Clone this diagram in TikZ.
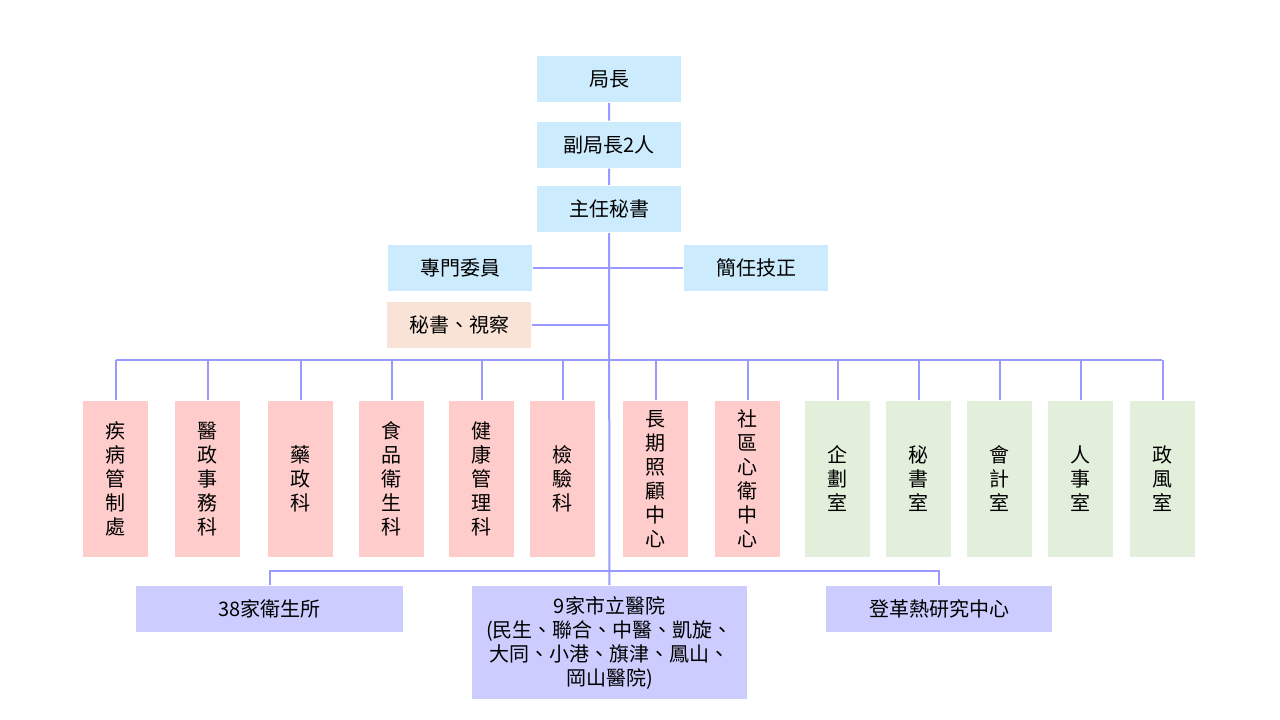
\documentclass[tikz,border=0pt]{standalone}
\usepackage{fontspec}
\setmainfont{Noto Sans CJK TC}
\usetikzlibrary{positioning}
\definecolor{topblue}{HTML}{CCEBFD}
\definecolor{peach}{HTML}{F9E3D6}
\definecolor{pinkbox}{HTML}{FFCCCC}
\definecolor{greenbox}{HTML}{E2EFDA}
\definecolor{violet}{HTML}{CCCCFF}
\definecolor{wire}{HTML}{9999FF}
\begin{document}
\begin{tikzpicture}[x=1pt, y=-1pt, line width=2pt,
	box/.style={inner sep=0pt, minimum width=144pt, minimum height=46pt, font=\fontsize{20}{24}\selectfont},
	unit/.style={inner sep=0pt, minimum width=65pt, minimum height=156pt, align=center, font=\fontsize{20}{24}\selectfont},
	link/.style={draw=wire}]
	\useasboundingbox (0,0) rectangle (1280,720);
	\node[box, fill=topblue] (chief) at (609,79) {局長};
	\node[box, fill=topblue] (deputy) at (609,144.5) {副局長2人};
	\node[box, fill=topblue] (secgen) at (609,209) {主任秘書};
	\node[box, fill=topblue] (comm) at (460,268) {專門委員};
	\node[box, fill=topblue] (engr) at (756,268) {簡任技正};
	\node[box, fill=peach] (insp) at (459,325) {秘書、視察};
	
	\node[box, fill=violet, minimum width=267pt] (clinic) at (269.5,609) {38家衛生所};
	\node[box, fill=violet, minimum width=275pt, minimum height=113pt, align=center] (hosp) at (609.5,642.5) {9家市立醫院\\(民生、聯合、中醫、凱旋、\\大同、小港、旗津、鳳山、\\岡山醫院)};
	\node[box, fill=violet, minimum width=226pt] (dengue) at (939,609) {登革熱研究中心};
	
	\coordinate (bus) at (609,360);
	\coordinate (lowbus) at (609,571);
	
	\draw[link] (chief) -- (deputy) -- (secgen) -- (hosp);
	\draw[link] (comm) -- (engr);
	\draw[link] (insp.east) -- (insp.east -| secgen);
	\draw[link] (116,360) -- (1162,360);
	\draw[link] (clinic.north) -- (clinic.north |- lowbus) -- (dengue.north |- lowbus) -- (dengue.north);
	
	\foreach \n/\x/\t/\c in {u1/115.5/疾\\病\\管\\制\\處/pinkbox, u2/207.5/醫\\政\\事\\務\\科/pinkbox,
		u3/300.5/藥\\政\\科/pinkbox, u4/391.5/食\\品\\衛\\生\\科/pinkbox, u5/481.5/健\\康\\管\\理\\科/pinkbox,
		u6/562.5/檢\\驗\\科/pinkbox, u7/655.5/長\\期\\照\\顧\\中\\心/pinkbox, u8/747.5/社\\區\\心\\衛\\中\\心/pinkbox,
		u9/837.5/企\\劃\\室/greenbox, u10/918.5/秘\\書\\室/greenbox, u11/999.5/會\\計\\室/greenbox,
		u12/1080.5/人\\事\\室/greenbox, u13/1162.5/政\\風\\室/greenbox}{
		\node[unit, fill=\c] (\n) at (\x,479) {\t};
		\draw[link] (\n.north) -- (\n.north |- bus);
	}
\end{tikzpicture}
\end{document}
